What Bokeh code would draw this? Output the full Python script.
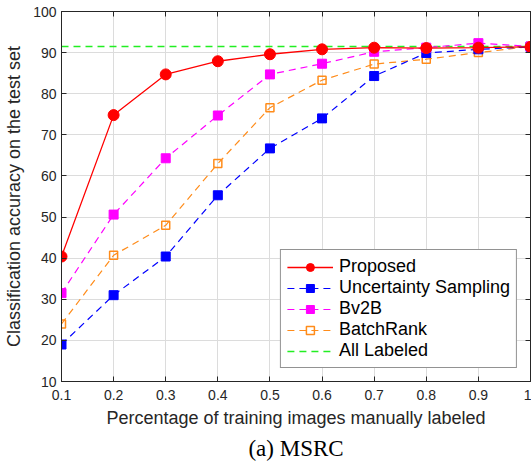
from bokeh.plotting import figure
from bokeh.models import FixedTicker, Legend, LegendItem, Title, LinearAxis
from bokeh.embed import file_html
from bokeh.resources import INLINE

x = [0.1, 0.2, 0.3, 0.4, 0.5, 0.6, 0.7, 0.8, 0.9, 1.0]
proposed = [40.4, 74.8, 84.7, 87.9, 89.6, 90.8, 91.2, 91.1, 91.2, 91.4]
uncertainty = [19.0, 31.0, 40.4, 55.3, 66.7, 74.0, 84.3, 89.9, 90.8, 91.4]
bv2b = [31.5, 50.6, 64.3, 74.7, 84.7, 87.3, 90.2, 91.2, 92.3, 91.5]
batchrank = [24.0, 40.7, 48.0, 63.0, 76.6, 83.3, 87.2, 88.4, 90.0, 91.5]
all_labeled = 91.5
x_ticks = [0.1, 0.2, 0.3, 0.4, 0.5, 0.6, 0.7, 0.8, 0.9, 1.0]
x_tick_labels = ["0.1", "0.2", "0.3", "0.4", "0.5", "0.6", "0.7", "0.8", "0.9", "1"]
y_ticks = [10, 20, 30, 40, 50, 60, 70, 80, 90, 100]

FONT = "Liberation Sans"
TXT = "#262626"

p = figure(width=531, height=463, x_range=(0.1, 1.0), y_range=(10, 100),
           output_backend="svg", toolbar_location=None,
           min_border_left=61, min_border_right=1, min_border_top=11, min_border_bottom=82)
p.background_fill_color = "white"
p.border_fill_color = "white"
p.outline_line_color = TXT
p.outline_line_width = 1

for ax in (p.xaxis[0], p.yaxis[0]):
    ax.axis_line_color = TXT
    ax.major_tick_in = 5
    ax.major_tick_out = 0
    ax.minor_tick_line_color = None
    ax.major_tick_line_color = TXT
    ax.major_label_text_font = FONT
    ax.major_label_text_font_size = "14px"
    ax.major_label_text_color = TXT
    ax.axis_label_text_font = FONT
    ax.axis_label_text_font_size = "18px"
    ax.axis_label_text_font_style = "normal"
    ax.axis_label_text_color = TXT

p.xaxis.ticker = FixedTicker(ticks=x_ticks)
p.xaxis.major_label_overrides = {t: l for t, l in zip(x_ticks, x_tick_labels)}
p.yaxis.ticker = FixedTicker(ticks=y_ticks)
p.xaxis.axis_label = "Percentage of training images manually labeled"
p.yaxis.axis_label = "Classification accuracy on the test set"
p.xaxis.major_label_standoff = 8
p.xaxis.axis_label_standoff = 5
p.yaxis.major_label_standoff = 5
p.yaxis.axis_label_standoff = 6

# box ticks on top and right (no labels)
top_ax = LinearAxis(ticker=FixedTicker(ticks=x_ticks),
                    major_label_overrides={t: "" for t in x_ticks},
                    major_label_standoff=0, major_tick_in=5, major_tick_out=0,
                    minor_tick_line_color=None, axis_line_color=TXT, major_tick_line_color=TXT)
right_ax = LinearAxis(ticker=FixedTicker(ticks=y_ticks),
                      major_label_overrides={t: "" for t in y_ticks},
                      major_label_standoff=0, major_tick_in=5, major_tick_out=0,
                      minor_tick_line_color=None, axis_line_color=TXT, major_tick_line_color=TXT)
p.add_layout(top_ax, "above")
p.add_layout(right_ax, "right")

p.xgrid.grid_line_color = "#dcdcdc"
p.ygrid.grid_line_color = "#dcdcdc"
p.xgrid.ticker = FixedTicker(ticks=x_ticks)
p.ygrid.ticker = FixedTicker(ticks=y_ticks)

DASH = "7 5"

green = p.line(x=[0.1, 1.0], y=[all_labeled, all_labeled], color="#22ee22", line_width=1.5, line_dash=DASH)

o_l = p.line(x, batchrank, color="#ff8c1a", line_width=1.2, line_dash=DASH)
o_m = p.scatter(x, batchrank, marker="square", size=8, fill_color="white", fill_alpha=0,
                line_color="#ff8c1a", line_width=1.5)

b_l = p.line(x, uncertainty, color="#0000ff", line_width=1.2, line_dash=DASH)
b_m = p.scatter(x, uncertainty, marker="square", size=9, color="#0000ff")

m_l = p.line(x, bv2b, color="#ff00ff", line_width=1.2, line_dash=DASH)
m_m = p.scatter(x, bv2b, marker="square", size=9, color="#ff00ff")

r_l = p.line(x, proposed, color="#ff0000", line_width=1.3)
r_m = p.scatter(x, proposed, marker="circle", size=11, color="#ff0000")

legend = Legend(items=[
    LegendItem(label="Proposed", renderers=[r_l, r_m]),
    LegendItem(label="Uncertainty Sampling", renderers=[b_l, b_m]),
    LegendItem(label="Bv2B", renderers=[m_l, m_m]),
    LegendItem(label="BatchRank", renderers=[o_l, o_m]),
    LegendItem(label="All Labeled", renderers=[green]),
], location="bottom_right")
legend.margin = 13
legend.padding = 6
legend.spacing = 0
legend.glyph_width = 46
legend.glyph_height = 20
legend.label_height = 20
legend.label_standoff = 6
legend.label_text_font = FONT
legend.label_text_font_size = "18px"
legend.label_text_color = "#000000"
legend.border_line_color = TXT
legend.border_line_width = 1
legend.background_fill_color = "white"
legend.background_fill_alpha = 1
p.add_layout(legend)

cap = Title(text="(a) MSRC", align="center", text_font="Liberation Serif",
            text_font_size="23px", text_font_style="normal", text_color="#000000",
            offset=-4, standoff=6)
p.add_layout(cap, "below")

open("out.html", "w").write(file_html(p, INLINE))
